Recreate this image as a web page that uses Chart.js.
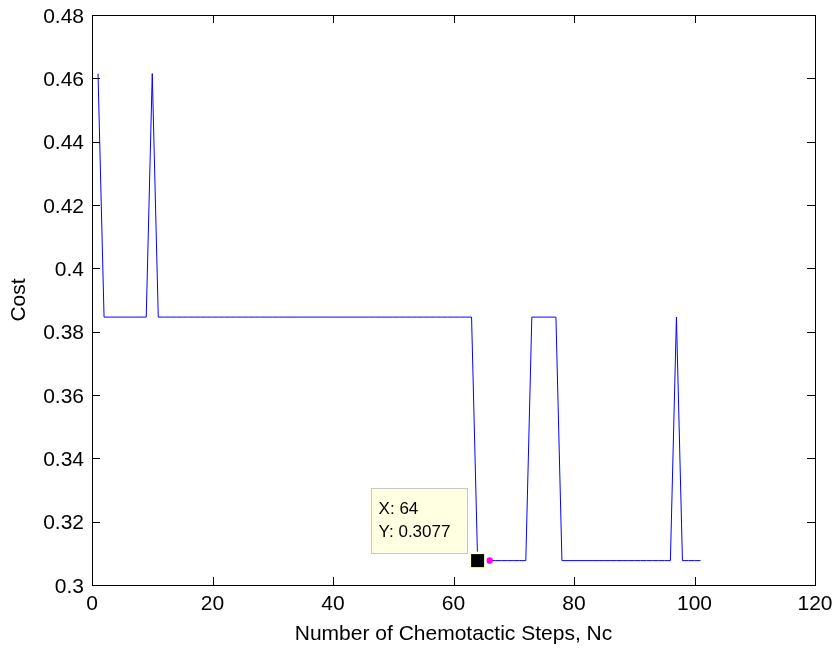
<!DOCTYPE html>
<html><head><meta charset="utf-8">
<script src="https://cdn.jsdelivr.net/npm/chart.js@4"></script>
<style>html,body{margin:0;padding:0;background:#fff}#wrap{width:837px;height:651px}</style>
</head><body><div id="wrap"><canvas id="c" width="837" height="651"></canvas></div>
<script>
const steps = [1,2,3,4,5,6,7,8,9,10,11,12,13,14,15,16,17,18,19,20,21,22,23,24,25,26,27,28,29,30,31,32,33,34,35,36,37,38,39,40,41,42,43,44,45,46,47,48,49,50,51,52,53,54,55,56,57,58,59,60,61,62,63,64,65,66,67,68,69,70,71,72,73,74,75,76,77,78,79,80,81,82,83,84,85,86,87,88,89,90,91,92,93,94,95,96,97,98,99,100,101];
const cost = [
0.4615,0.3846,0.3846,0.3846,0.3846,0.3846,0.3846,0.3846,0.3846,0.4615,
0.3846,0.3846,0.3846,0.3846,0.3846,0.3846,0.3846,0.3846,0.3846,0.3846,
0.3846,0.3846,0.3846,0.3846,0.3846,0.3846,0.3846,0.3846,0.3846,0.3846,
0.3846,0.3846,0.3846,0.3846,0.3846,0.3846,0.3846,0.3846,0.3846,0.3846,
0.3846,0.3846,0.3846,0.3846,0.3846,0.3846,0.3846,0.3846,0.3846,0.3846,
0.3846,0.3846,0.3846,0.3846,0.3846,0.3846,0.3846,0.3846,0.3846,0.3846,
0.3846,0.3846,0.3846,0.3077,0.3077,0.3077,0.3077,0.3077,0.3077,0.3077,
0.3077,0.3077,0.3846,0.3846,0.3846,0.3846,0.3846,0.3077,0.3077,0.3077,
0.3077,0.3077,0.3077,0.3077,0.3077,0.3077,0.3077,0.3077,0.3077,0.3077,
0.3077,0.3077,0.3077,0.3077,0.3077,0.3077,0.3846,0.3077,0.3077,0.3077,
0.3077];
const xTicks = [0,20,40,60,80,100,120];
const yTicks = [0.3,0.32,0.34,0.36,0.38,0.4,0.42,0.44,0.46,0.48];
const yTickLabels = ['0.3','0.32','0.34','0.36','0.38','0.4','0.42','0.44','0.46','0.48'];
const tipX = 64;
const tipY = 0.3077;

const FONT = 'Liberation Sans, Arial, sans-serif';
const FS = 21;

function noPad(s){ s.paddingLeft=0; s.paddingRight=0; s.paddingTop=0; s.paddingBottom=0; }

const boxTicks = {
  id:'boxTicks',
  afterDraw(chart){
    const {ctx, chartArea:a, scales:{x,y}} = chart;
    ctx.save();
    ctx.strokeStyle='#000'; ctx.lineWidth=1;
    ctx.strokeRect(Math.round(a.left)+0.5, Math.round(a.top)+0.5, Math.round(a.right-a.left), Math.round(a.bottom-a.top));
    const L=8;
    ctx.beginPath();
    xTicks.forEach(v=>{const p=Math.round(x.getPixelForValue(v))+0.5;
      ctx.moveTo(p,a.bottom);ctx.lineTo(p,a.bottom-L);
      ctx.moveTo(p,a.top);ctx.lineTo(p,a.top+L);});
    yTicks.forEach(v=>{const p=Math.round(y.getPixelForValue(v))+0.5;
      ctx.moveTo(a.left,p);ctx.lineTo(a.left+L,p);
      ctx.moveTo(a.right,p);ctx.lineTo(a.right-L,p);});
    ctx.stroke();
    // data tip anchored to the data point
    const px = x.getPixelForValue(tipX), py = y.getPixelForValue(tipY);
    ctx.fillStyle='#ff00ff';
    ctx.beginPath(); ctx.arc(px+12, py, 3.3, 0, Math.PI*2); ctx.fill();
    ctx.fillStyle='#ffffe1';
    ctx.fillRect(px-9, py-9, 18, 18);
    ctx.fillStyle='#000';
    ctx.fillRect(px-6.5, py-6.5, 13, 13);
    const bw=96, bh=65, bx=px-11-bw, by=py-8-bh;
    ctx.fillStyle='#ffffe1'; ctx.fillRect(bx,by,bw,bh);
    ctx.strokeStyle='#c8c8c8'; ctx.lineWidth=1; ctx.strokeRect(Math.round(bx)+0.5,Math.round(by)+0.5,bw,bh);
    ctx.fillStyle='#000'; ctx.font='17px '+FONT; ctx.textBaseline='middle'; ctx.textAlign='left';
    ctx.fillText('X: '+tipX, bx+8, by+22);
    ctx.fillText('Y: '+tipY, bx+8, by+45);
    ctx.restore();
  }
};

new Chart(document.getElementById('c'), {
  type:'line',
  data:{datasets:[{data:steps.map((s,i)=>({x:s,y:cost[i]})), borderColor:'#0000ff', borderWidth:1, pointRadius:0, tension:0, fill:false}]},
  options:{
    responsive:false, animation:false, devicePixelRatio:1,
    layout:{padding:{top:15,right:22,left:0,bottom:0}},
    plugins:{legend:{display:false}, tooltip:{enabled:false}},
    scales:{
      x:{type:'linear', min:0, max:120,
        afterBuildTicks(s){s.ticks=xTicks.map(v=>({value:v}));},
        afterFit(s){s.height=66; noPad(s);},
        grid:{display:false, drawTicks:false}, border:{display:false},
        ticks:{color:'#000', font:{family:FONT,size:FS}, padding:7, maxRotation:0, callback:v=>String(v)},
        title:{display:true, text:'Number of Chemotactic Steps, Nc', color:'#000', font:{family:FONT,size:FS}, padding:{top:0,bottom:4}}
      },
      y:{type:'linear', min:0.3, max:0.48,
        afterBuildTicks(s){s.ticks=yTicks.map(v=>({value:v}));},
        afterFit(s){s.width=92; noPad(s);},
        grid:{display:false, drawTicks:false}, border:{display:false},
        ticks:{color:'#000', font:{family:FONT,size:FS}, padding:8, labelOffset:2, callback:(v,i)=>yTickLabels[i]},
        title:{display:true, text:'Cost', color:'#000', font:{family:FONT,size:FS}, padding:{top:7,bottom:0}}
      }
    }
  },
  plugins:[boxTicks]
});
</script></body></html>
